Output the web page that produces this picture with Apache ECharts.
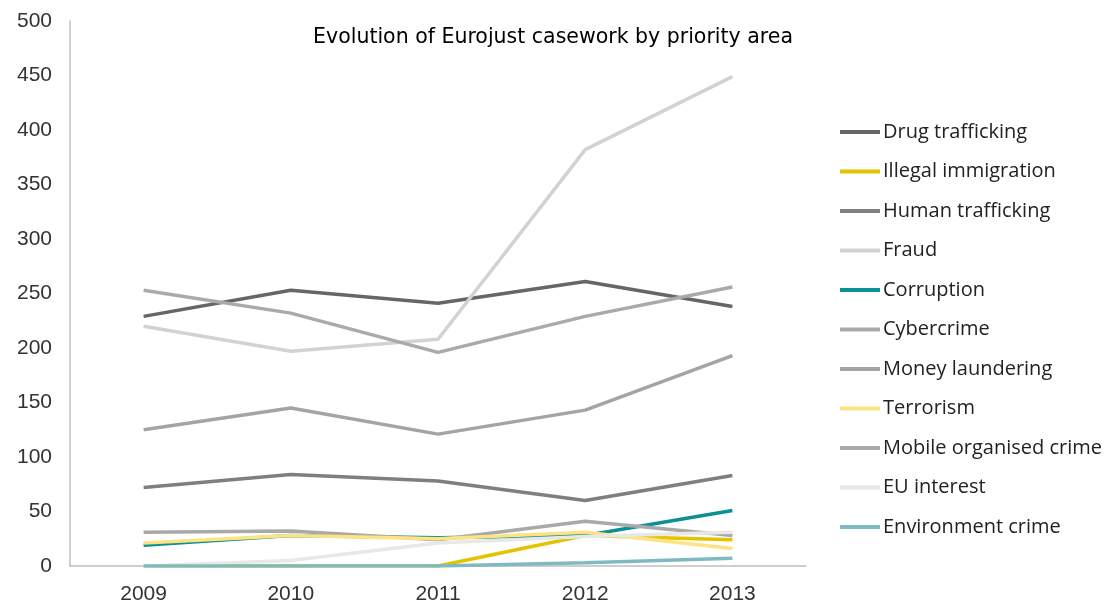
<!DOCTYPE html>
<html>
<head>
<meta charset="utf-8">
<script src="https://cdn.jsdelivr.net/npm/echarts@6/dist/echarts.min.js"></script>
<style>
html,body{margin:0;padding:0;background:#fff;}
#chart{width:1106px;height:603px;}
</style>
</head>
<body>
<div id="chart"></div>
<script>
const years = ['2009', '2010', '2011', '2012', '2013'];
const yTicks = [0, 50, 100, 150, 200, 250, 300, 350, 400, 450, 500];

const drugTrafficking   = [229, 253, 241, 261, 238];
const illegalImmigration = [0, 0, 0, 28, 24];
const humanTrafficking  = [72, 84, 78, 60, 83];
const fraud             = [220, 197, 208, 382, 449];
const corruption        = [19, 28, 26, 28, 51];
const cybercrime        = [31, 32, 24, 41, 28];
const moneyLaundering   = [125, 145, 121, 143, 193];
const terrorism         = [21, 28, 25, 31, 16];
const mobileOrgCrime    = [253, 232, 196, 229, 256];
const euInterest        = [0, 5, 21, 27, 31];
const environmentCrime  = [0, 0, 0, 3, 7];

const seriesNames = ['Drug trafficking', 'Illegal immigration', 'Human trafficking', 'Fraud', 'Corruption',
  'Cybercrime', 'Money laundering', 'Terrorism', 'Mobile organised crime', 'EU interest', 'Environment crime'];
const seriesData = [drugTrafficking, illegalImmigration, humanTrafficking, fraud, corruption,
  cybercrime, moneyLaundering, terrorism, mobileOrgCrime, euInterest, environmentCrime];
const seriesColors = ['#666666', '#e2c400', '#7f7f7f', '#d2d2d2', '#0b9096',
  '#a9a9a9', '#a4a4a4', '#fde382', '#aaaaaa', '#e8e8e8', '#7fbac2'];

const chart = echarts.init(document.getElementById('chart'), null, {renderer: 'canvas'});
chart.setOption({
  animation: false,
  backgroundColor: '#ffffff',
  title: {
    text: 'Evolution of Eurojust casework by priority area',
    left: 'center',
    top: 22,
    textStyle: {fontFamily: 'DejaVu Sans', fontSize: 20.5, fontWeight: 'normal', color: '#000'}
  },
  legend: {
    orient: 'vertical',
    left: 840,
    top: 122,
    padding: 0,
    itemWidth: 40,
    itemHeight: 4,
    itemGap: 19.5,
    icon: 'rect',
    textStyle: {fontFamily: 'Open Sans', fontSize: 20, color: '#222', lineHeight: 20, padding: [0,0,0,-2]},
    data: seriesNames
  },
  grid: {left: 70, right: 300, top: 21, bottom: 37, containLabel: false, outerBoundsMode: 'none'},
  xAxis: {
    type: 'category',
    data: years,
    boundaryGap: true,
    axisLine: {lineStyle: {color: '#bfbfbf', width: 1.5}},
    axisTick: {show: false},
    axisLabel: {fontFamily: 'Liberation Sans Narrow, Liberation Sans', fontSize: 21, color: '#333', margin: 18}
  },
  yAxis: {
    type: 'value',
    min: yTicks[0],
    max: yTicks[yTicks.length - 1],
    interval: 50,
    axisLine: {show: true, lineStyle: {color: '#bfbfbf', width: 1.5}},
    axisTick: {show: false},
    splitLine: {show: false},
    axisLabel: {fontFamily: 'Liberation Sans', fontSize: 21, color: '#333', margin: 18}
  },
  series: seriesNames.map((n, i) => ({
    name: n,
    type: 'line',
    data: seriesData[i],
    showSymbol: false,
    symbol: 'none',
    lineStyle: {width: 3.5, color: seriesColors[i]},
    itemStyle: {color: seriesColors[i]}
  }))
});
</script>
</body>
</html>
